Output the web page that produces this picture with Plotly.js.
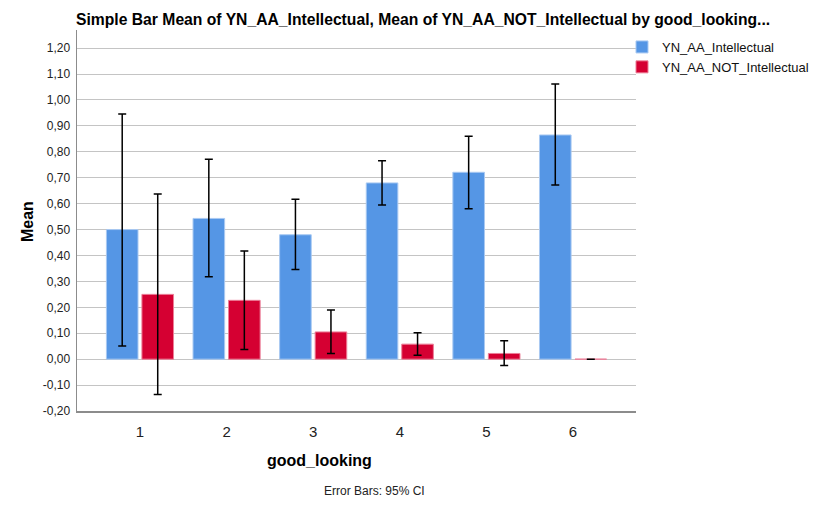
<!DOCTYPE html>
<html>
<head>
<meta charset="utf-8">
<script src="https://cdn.plot.ly/plotly-3.0.1.min.js"></script>
<style>html,body{margin:0;padding:0;background:#fff;}#chart{width:824px;height:509px;}</style>
</head>
<body>
<div id="chart"></div>
<script>
const categories = ['1', '2', '3', '4', '5', '6'];
const intellectualMean  = [0.50, 0.543, 0.480, 0.680, 0.721, 0.865];
const intellectualUpper = [0.946, 0.771, 0.617, 0.766, 0.860, 1.062];
const intellectualLower = [0.051, 0.318, 0.346, 0.595, 0.580, 0.672];
const notIntellectualMean  = [0.25, 0.227, 0.105, 0.058, 0.022, 0.0];
const notIntellectualUpper = [0.637, 0.417, 0.190, 0.102, 0.071, 0.0];
const notIntellectualLower = [-0.136, 0.037, 0.022, 0.015, -0.024, 0.0];
const yTicks = [-0.2, -0.1, 0, 0.1, 0.2, 0.3, 0.4, 0.5, 0.6, 0.7, 0.8, 0.9, 1.0, 1.1, 1.2];
const yTickText = yTicks.map(v => v.toFixed(2).replace('.', ','));

function errPlus(m, u) { return m.map((v, i) => u[i] - v); }
function errMinus(m, l) { return m.map((v, i) => v - l[i]); }

const errStyle = {color: '#000000', thickness: 1.5, width: 4};

const W = 824, H = 509, L = 77, R = 636, T = 30, B = 411;
const px = x => (x - L) / (R - L);
const py = y => (B - y) / (B - T);

const traces = [
  {
    type: 'bar', name: 'YN_AA_Intellectual', x: categories, y: intellectualMean,
    marker: {color: '#5596e5', line: {color: '#a9c9f2', width: 1}},
    error_y: Object.assign({type: 'data', symmetric: false,
      array: errPlus(intellectualMean, intellectualUpper),
      arrayminus: errMinus(intellectualMean, intellectualLower)}, errStyle),
    hoverinfo: 'skip'
  },
  {
    type: 'bar', name: 'YN_AA_NOT_Intellectual', x: categories, y: notIntellectualMean,
    marker: {color: '#d50032', line: {color: '#ec7f98', width: 1}},
    error_y: Object.assign({type: 'data', symmetric: false,
      array: errPlus(notIntellectualMean, notIntellectualUpper),
      arrayminus: errMinus(notIntellectualMean, notIntellectualLower)}, errStyle),
    hoverinfo: 'skip'
  }
];

const layout = {
  width: W, height: H,
  margin: {l: L, r: W - R, t: T, b: H - B, autoexpand: false},
  paper_bgcolor: '#ffffff', plot_bgcolor: '#ffffff',
  font: {family: 'Arial, "Liberation Sans", sans-serif', color: '#000'},
  barmode: 'group', bargap: 0.18, bargroupgap: 0.11,
  showlegend: true,
  legend: {xref: 'paper', x: px(622), yref: 'paper', y: py(32), xanchor: 'left', yanchor: 'top',
           font: {size: 13, color: '#111'}, tracegroupgap: 0, itemwidth: 30,
           bgcolor: 'rgba(0,0,0,0)'},
  title: {text: 'Simple Bar Mean of YN_AA_Intellectual, Mean of YN_AA_NOT_Intellectual by good_looking...',
          font: {size: 15.7, color: '#000', weight: 'bold'},
          xref: 'container', x: 76 / W, xanchor: 'left',
          yref: 'container', y: 1 - 20 / H, yanchor: 'middle'},
  xaxis: {
    type: 'category', range: [-0.727, 5.727],
    showgrid: false, zeroline: false,
    showline: true, linecolor: '#8c8c8c', linewidth: 1.5,
    ticks: '', tickfont: {size: 15, color: '#222'}, ticklabelstandoff: 6
  },
  yaxis: {
    range: [-0.2, 1.27], tickvals: yTicks, ticktext: yTickText,
    showgrid: true, gridcolor: '#c4c4c4', gridwidth: 1,
    zeroline: false,
    showline: true, linecolor: '#8c8c8c', linewidth: 1.5,
    ticks: '', tickfont: {size: 12, color: '#222'}, ticklabelstandoff: 3
  },
  annotations: [
    {text: '<b>Mean</b>', textangle: -90, xref: 'paper', yref: 'paper',
     x: px(27), xanchor: 'center', y: py(222), yanchor: 'middle', showarrow: false,
     font: {size: 16, color: '#000'}},
    {text: '<b>good_looking</b>', xref: 'paper', yref: 'paper',
     x: px(319), xanchor: 'center', y: py(460), yanchor: 'middle', showarrow: false,
     font: {size: 16, color: '#000'}},
    {text: 'Error Bars: 95% CI', xref: 'paper', yref: 'paper',
     x: px(374), xanchor: 'center', y: py(491), yanchor: 'middle', showarrow: false,
     font: {size: 12, color: '#222'}}
  ]
};

Plotly.newPlot('chart', traces, layout, {staticPlot: true, displayModeBar: false});
</script>
</body>
</html>
